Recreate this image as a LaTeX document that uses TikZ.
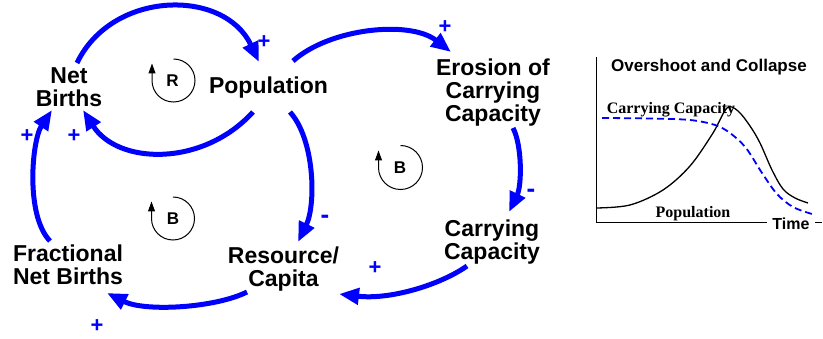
\documentclass[tikz,border=0pt]{standalone}
\usepackage{fontspec}
\setmainfont{Liberation Serif}
\setsansfont{Liberation Sans}
\usetikzlibrary{arrows.meta}
\definecolor{linkblue}{RGB}{0,0,255}
\begin{document}
\begin{tikzpicture}[x=1pt,y=-1pt,
  var/.style={font=\sffamily\bfseries\fontsize{23}{23}\selectfont, align=center, inner sep=0pt},
  link/.style={draw=linkblue, line width=5pt, -{Triangle[length=20pt,width=16pt]}},
  pol/.style={text=linkblue, font=\sffamily\bfseries\fontsize{22}{22}\selectfont, inner sep=0pt},
  neg/.style={text=linkblue, font=\sffamily\bfseries\fontsize{26}{26}\selectfont, inner sep=0pt},
  looplbl/.style={font=\sffamily\bfseries\fontsize{17}{17}\selectfont, inner sep=0pt},
  loopline/.style={draw=black, line width=1pt, -{Triangle[length=10pt,width=7pt]}},
  axis/.style={draw=black, line width=1pt},
  chartlbl/.style={font=\bfseries\fontsize{16}{16}\selectfont, inner sep=0pt},
  charttitle/.style={font=\sffamily\bfseries\fontsize{17}{17}\selectfont, inner sep=0pt}
]
\useasboundingbox (0,0) rectangle (823,339);

% variables
\node[var] (nb) at (69,87) {Net\\Births};
\node[var] (pop) at (268.5,87.5) {Population};
\node[var] (ero) at (493,93) {Erosion of\\Carrying\\Capacity};
\node[var] (cc) at (492,242) {Carrying\\Capacity};
\node[var] (rc) at (283.5,269) {Resource/\\Capita};
\node[var] (fnb) at (68,265) {Fractional\\Net Births};

% links
\draw[link] ([shift={(8,-24)}]nb.center) .. controls (112,-10) and (224,-12) .. ([shift={(-9.5,-25.5)}]pop.center);
\draw[link] ([shift={(-15.5,24.5)}]pop.center) .. controls (203,167) and (118,165) .. ([shift={(14,23)}]nb.center);
\draw[link] ([shift={(24.5,-26.5)}]pop.center) .. controls (330,28) and (410,20) .. ([shift={(-42,-41)}]ero.center);
\draw[link] ([shift={(20,35)}]ero.center) .. controls (522,145) and (522,185) .. ([shift={(17,-30)}]cc.center);
\draw[link] ([shift={(-25,24)}]cc.center) .. controls (440,285) and (390,300) .. ([shift={(55.5,25)}]rc.center);
\draw[link] ([shift={(21.5,24.5)}]pop.center) .. controls (315,140) and (316,205) .. ([shift={(14.5,-27)}]rc.center);
\draw[link] ([shift={(-36.5,23)}]rc.center) .. controls (215,308) and (145,312) .. ([shift={(39,28)}]fnb.center);
\draw[link] ([shift={(-18,-24)}]fnb.center) .. controls (25,215) and (32,140) .. ([shift={(-17,23)}]nb.center);

% polarities
\node[pol] (p1) at (264,42) {+};
\node[pol] (p2) at (74,136) {+};
\node[pol] (p3) at (27,136) {+};
\node[pol] (p4) at (445,27) {+};
\node[neg] (m1) at (531,193) {-};
\node[neg] (m2) at (325,219) {-};
\node[pol] (p5) at (375,268) {+};
\node[pol] (p6) at (97,326) {+};

% loop markers
\node[looplbl] (lr) at (172.5,81) {R};
\node[looplbl] (lb1) at (173,219) {B};
\node[looplbl] (lb2) at (400,167.5) {B};
\draw[loopline] ([shift={(1,-22)}]lr.center) arc[start angle=90, end angle=-180, radius=21.5pt] -- ++(0,-17);
\draw[loopline] ([shift={(0,-22)}]lb1.center) arc[start angle=90, end angle=-180, radius=21.5pt] -- ++(0,-17);
\draw[loopline] ([shift={(0.5,-22)}]lb2.center) arc[start angle=90, end angle=-180, radius=22pt] -- ++(0,-17);

% chart
\node[charttitle] (title) at (709,67) {Overshoot and Collapse};
\coordinate (origin) at (596,223);
\coordinate (ytop) at (596,57);
\coordinate (xend) at (822,223);
\draw[axis] (ytop) -- (origin) -- (xend);
\node[font=\sffamily\bfseries\fontsize{16}{16}\selectfont, fill=white, inner xsep=5pt, inner ysep=2pt] (time) at (791,224) {Time};
\draw[black, line width=1.3pt] plot[smooth, tension=0.55] coordinates {(596,208) (630,205) (663,190) (690,166) (713,133) (727,108) (738,111) (750,126) (760,143) (772,170) (783,189) (795,198) (808,203)};
\draw[linkblue, line width=1.8pt, dash pattern=on 7pt off 4pt] plot[smooth, tension=0.55] coordinates {(602,118) (650,118.5) (690,120) (715,125) (730,133) (746,148) (762,173) (777,194) (793,207) (812,214)};
\node[chartlbl] (cclbl) at (671,110) {Carrying Capacity};
\node[chartlbl] (poplbl) at (693,214) {Population};
\end{tikzpicture}
\end{document}
